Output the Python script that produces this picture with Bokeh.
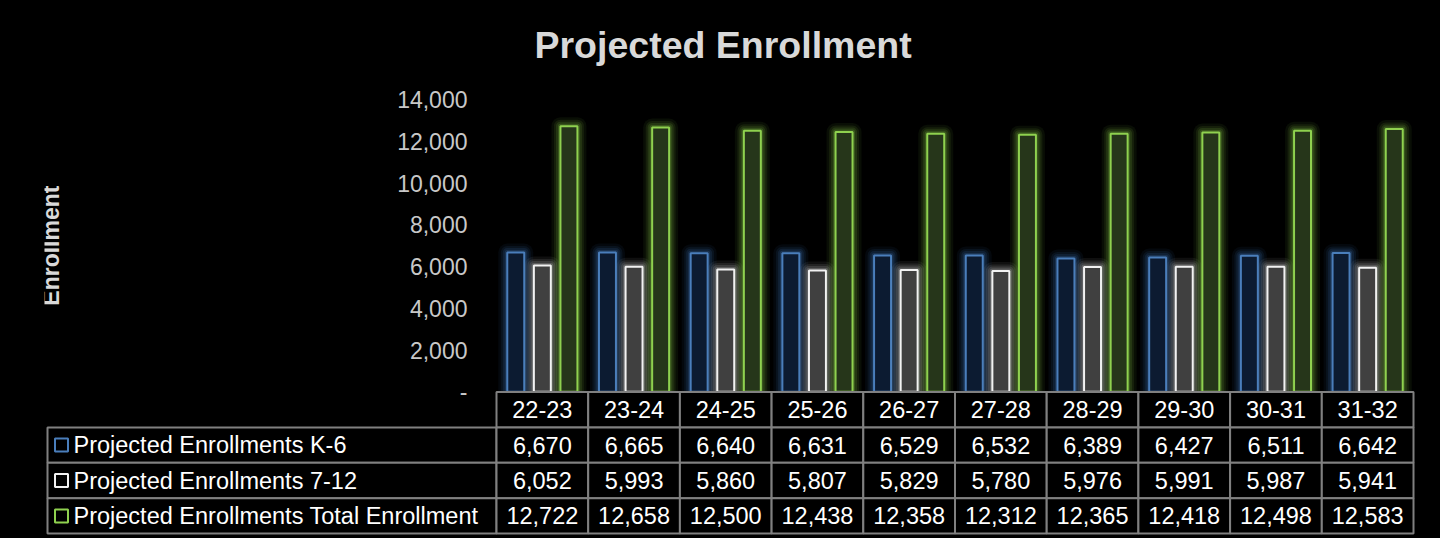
import math
from bokeh.plotting import figure
from bokeh.models import Range1d, FixedTicker, NumeralTickFormatter, Label, ColumnDataSource
from bokeh.core.properties import value
from bokeh.embed import file_html
from bokeh.resources import INLINE

# ---------------- data ----------------
years = ["22-23", "23-24", "24-25", "25-26", "26-27", "27-28", "28-29", "29-30", "30-31", "31-32"]
k6 = [6670, 6665, 6640, 6631, 6529, 6532, 6389, 6427, 6511, 6642]
g7_12 = [6052, 5993, 5860, 5807, 5829, 5780, 5976, 5991, 5987, 5941]
total = [12722, 12658, 12500, 12438, 12358, 12312, 12365, 12418, 12498, 12583]
series_names = ["Projected Enrollments K-6", "Projected Enrollments 7-12",
                "Projected Enrollments Total Enrollment"]
y_ticks = [0, 2000, 4000, 6000, 8000, 10000, 12000, 14000]
title_text = "Projected Enrollment"
y_label = "Enrollment"

# ---------------- layout / style (picture pixels) ----------------
FONT = "Liberation Sans"
ORIGIN = 0
W, H = 1440, 538
FL, FR, FT, FB = 44, 1416, 80, 537      # frame edges
CAT0, COLW = 496, 91.7                  # left edge of first category, column width
TBL_LEFT = 47                           # left edge of the table
ZERO_Y, PXU = 391.25, 0.020875          # y pixel of 0 and px per enrollment unit
ROW0, ROWH = 391.5, 35.4                # table top edge and row height
TITLE_LEFT = 534

line_cols = ["#4a7ebb", "#f2f2f2", "#8fd14f"]
fill_cols = ["#0c1b31", "#404040", "#26361a"]
glow_cols = ["#3f74b8", "#d8d8d8", "#86c946"]
GRID = "#808080"

x_range = Range1d((FL - CAT0) / COLW, (FR - CAT0) / COLW)
y_range = Range1d(-(FB - ZERO_Y) / PXU, (ZERO_Y - FT) / PXU)
table_range = Range1d((FB - ROW0) / ROWH, -(ROW0 - FT) / ROWH)

p = figure(width=W, height=H, x_range=x_range, y_range=y_range,
           output_backend="svg", toolbar_location=None, x_axis_location=None,
           background_fill_color="black", border_fill_color="black",
           outline_line_color=None,
           min_border_left=FL - ORIGIN, min_border_right=ORIGIN + W - FR,
           min_border_top=FT - ORIGIN, min_border_bottom=ORIGIN + H - FB)
p.styles = {"background-color": "black"}
p.extra_y_ranges = {"table": table_range}
p.xgrid.visible = False
p.ygrid.visible = False

# title
p.title.text = title_text
p.title.align = "left"
p.title.offset = TITLE_LEFT - FL
p.title.text_font = FONT
p.title.text_font_size = "37.5px"
p.title.text_font_style = "bold"
p.title.text_color = "#d9d9d9"
p.title.standoff = 30

# y axis at the left edge of the category area
ax = p.yaxis[0]
ax.fixed_location = 0
ax.ticker = FixedTicker(ticks=y_ticks)
ax.formatter = NumeralTickFormatter(format="0,0")
ax.major_label_overrides = {0: "-"}
ax.axis_line_color = None
ax.major_tick_line_color = None
ax.minor_tick_line_color = None
ax.major_tick_in = 0
ax.major_tick_out = 0
ax.major_label_standoff = 29
ax.major_label_text_font = FONT
ax.major_label_text_font_size = "23px"
ax.major_label_text_color = "#c8c8c8"

p.add_layout(Label(x=(50 - CAT0) / COLW, y=(y_ticks[0] + y_ticks[-1]) / 2,
                   text=y_label, angle=math.pi / 2, text_align="center",
                   text_baseline="middle", text_font=FONT,
                   text_font_size="23px", text_font_style="bold",
                   text_color="#d9d9d9"))

# ---------------- bars ----------------
offsets = [-0.29, 0.0, 0.29]
BW = 0.185
for j, vals in enumerate([k6, g7_12, total]):
    src = ColumnDataSource(dict(x=[i + 0.5 + offsets[j] for i in range(len(years))], top=vals))
    for lw, a in [(18, 0.07), (13, 0.1), (9, 0.14), (5, 0.22)]:
        p.vbar(x="x", top="top", bottom=0, width=BW, source=src, fill_color=None,
               line_color=glow_cols[j], line_alpha=a, line_width=lw, line_join="round")
    p.vbar(x="x", top="top", bottom=0, width=BW, source=src, fill_color=fill_cols[j],
           line_color=line_cols[j], line_width=2)

# ---------------- data table ----------------
n = len(years)
L = (TBL_LEFT - CAT0) / COLW
# header row
p.rect(x=[i + 0.5 for i in range(n)], y=[0.5] * n, width=1, height=1,
       y_range_name="table", fill_color="black", line_color=GRID, line_width=2)
p.text(x=[i + 0.5 for i in range(n)], y=[0.5] * n, text=years, y_range_name="table",
       text_align="center", text_baseline="middle", text_color="white",
       text_font=value(FONT), text_font_size="23.5px")
# label column
p.rect(x=[L / 2] * 3, y=[1.5, 2.5, 3.5], width=-L, height=1, y_range_name="table",
       fill_color="black", line_color=GRID, line_width=2)
p.scatter(x=[L + 14 / COLW] * 3, y=[1.5, 2.5, 3.5], marker="square", size=13,
          y_range_name="table", fill_color="black", line_color=line_cols, line_width=2)
p.text(x=[L] * 3, y=[1.5, 2.5, 3.5], text=series_names, x_offset=26, y_range_name="table",
       text_align="left", text_baseline="middle", text_color="white",
       text_font=value(FONT), text_font_size="23.5px")
# value cells
cx, cy, ct = [], [], []
for r, vals in enumerate([k6, g7_12, total]):
    for i, v in enumerate(vals):
        cx.append(i + 0.5)
        cy.append(r + 1.5)
        ct.append(f"{v:,}")
p.rect(x=cx, y=cy, width=1, height=1, y_range_name="table",
       fill_color="black", line_color=GRID, line_width=2)
p.text(x=cx, y=cy, text=ct, y_range_name="table", text_align="center",
       text_baseline="middle", text_color="white",
       text_font=value(FONT), text_font_size="23.5px")

open("out.html", "w").write(file_html(p, INLINE))
